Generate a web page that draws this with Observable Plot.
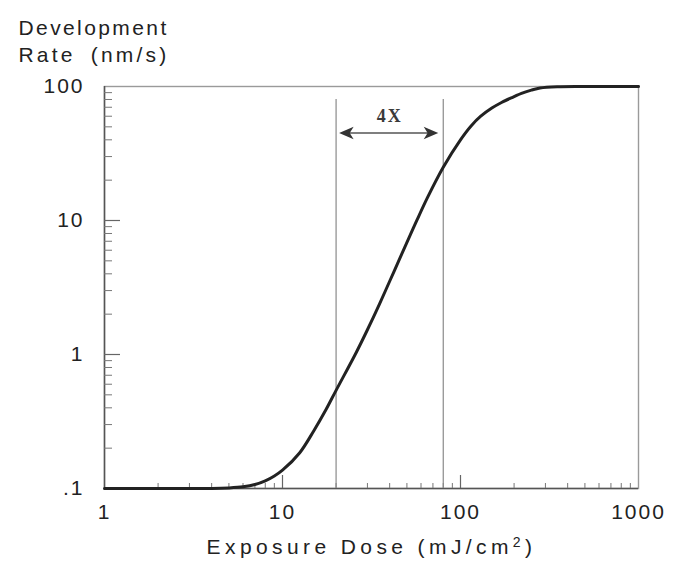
<!DOCTYPE html>
<html>
<head>
<meta charset="utf-8">
<script src="https://cdn.jsdelivr.net/npm/d3@7"></script>
<script src="https://cdn.jsdelivr.net/npm/@observablehq/plot@0.6"></script>
<style>
  body { margin: 0; background: #fff; }
  #chart svg { display: block; }
</style>
</head>
<body>
<div id="chart"></div>
<script>
// Resist development rate as a function of exposure dose (log-log)
const dose = [1, 2, 3, 4, 5, 6, 7, 8, 9, 10, 12.5, 15, 17.5, 20, 26, 30, 35, 40, 46, 52, 57, 65, 80, 100, 115, 130, 150, 170, 200, 220, 250, 280, 350, 500, 1000];
const rate = [0.1, 0.1, 0.1, 0.1, 0.101, 0.103, 0.107, 0.114, 0.124, 0.137, 0.185, 0.27, 0.385, 0.54, 1.04, 1.53, 2.37, 3.52, 5.35, 7.7, 10.1, 14.7, 25, 40, 51, 60, 69, 76, 84, 89, 94, 97.5, 99.6, 100, 100];

// Doses bracketing the steep part of the curve (a 4x dose ratio)
const bracketDoses = [20, 80];
const bracketLabel = "4X";

// Axis ticks
const xTicks = [1, 10, 100, 1000];
const xTickLabels = ["1", "10", "100", "1000"];
const yTicks = [0.1, 1, 10, 100];
const yTickLabels = [".1", "1", "10", "100"];
const xMajorInner = [10, 100];
const xMinor = [2, 3, 4, 5, 6, 7, 8, 9, 20, 30, 40, 50, 60, 70, 80, 90, 200, 300, 400, 500, 600, 700, 800, 900];
const yMajorInner = [1, 10];
const yMinor = [0.2, 0.3, 0.4, 0.5, 0.6, 0.7, 0.8, 0.9, 2, 3, 4, 5, 6, 7, 8, 9, 20, 30, 40, 50, 60, 70, 80, 90];

const yTitle = "Development\nRate (nm/s)";
const xTitleMain = "Exposure Dose (mJ/cm";
const xTitleSup = "2";
const xTitleEnd = ")";

const curve = dose.map((d, i) => ({dose: d, rate: rate[i]}));

const W = 680, H = 570;
const mL = 104, mR = 42, mT = 86, mB = 82;
const innerW = W - mL - mR, innerH = H - mT - mB;

// Filled, barbed arrowheads (tip at the origin)
const headRight = {
  draw(ctx, size) {
    const r = Math.sqrt(size / Math.PI);
    ctx.moveTo(0, 0);
    ctx.lineTo(-2.6 * r, -1.1 * r);
    ctx.lineTo(-1.9 * r, 0);
    ctx.lineTo(-2.6 * r, 1.1 * r);
    ctx.closePath();
  }
};
const headLeft = {
  draw(ctx, size) {
    const r = Math.sqrt(size / Math.PI);
    ctx.moveTo(0, 0);
    ctx.lineTo(2.6 * r, -1.1 * r);
    ctx.lineTo(1.9 * r, 0);
    ctx.lineTo(2.6 * r, 1.1 * r);
    ctx.closePath();
  }
};

const arrowY = 45;     // rate level of the double arrow
const labelY = 60;     // rate level of the "4X" label
const labelX = Math.sqrt(bracketDoses[0] * bracketDoses[1]);

const sans = "'Liberation Sans', Arial, Helvetica, sans-serif";

const chart = Plot.plot({
  width: W,
  height: H,
  marginLeft: mL,
  marginRight: mR,
  marginTop: mT,
  marginBottom: mB,
  x: {type: "log", domain: [1, 1000], axis: null},
  y: {type: "log", domain: [0.1, 100], axis: null},
  style: {fontFamily: sans, color: "#222", background: "#fff"},
  marks: [
    // plot frame
    Plot.frame({stroke: "#9a9a9a", strokeWidth: 1.4}),
    Plot.ruleX([1], {stroke: "#555", strokeWidth: 1.5}),
    Plot.ruleY([0.1], {stroke: "#555", strokeWidth: 1.5}),

    // inward tick marks
    Plot.tickX(xMajorInner, {x: d => d, insetTop: innerH - 13, stroke: "#666", strokeWidth: 1.2}),
    Plot.tickX(xMinor, {x: d => d, insetTop: innerH - 5, stroke: "#777", strokeWidth: 1}),
    Plot.tickY(yMajorInner, {y: d => d, insetRight: innerW - 16, stroke: "#666", strokeWidth: 1.2}),
    Plot.tickY(yMinor, {y: d => d, insetRight: innerW - 8, stroke: "#777", strokeWidth: 1}),

    // bracket lines at 20 and 80 mJ/cm²
    Plot.ruleX(bracketDoses, {y1: 0.1, y2: 80, stroke: "#8a8a8a", strokeWidth: 1.2}),

    // double arrow with label
    Plot.ruleY([arrowY], {x1: bracketDoses[0], x2: bracketDoses[1], insetLeft: 10, insetRight: 12, stroke: "#555", strokeWidth: 1.6}),
    Plot.dot([bracketDoses[0]], {x: d => d, y: () => arrowY, dx: 3, r: 5.6, symbol: headLeft, fill: "#333", stroke: null}),
    Plot.dot([bracketDoses[1]], {x: d => d, y: () => arrowY, dx: -5, r: 5.6, symbol: headRight, fill: "#333", stroke: null}),
    Plot.text([bracketLabel], {x: () => labelX, y: () => labelY, text: d => d, fontFamily: "'Liberation Serif', 'Times New Roman', serif", fontWeight: "bold", fontSize: 18, fill: "#3a3a3a"}),

    // development-rate curve
    Plot.line(curve, {x: "dose", y: "rate", stroke: "#222", strokeWidth: 3, curve: "catmull-rom"}),

    // tick labels
    Plot.text(xTicks, {x: d => d, frameAnchor: "bottom", dy: 30, text: (d, i) => xTickLabels[i], fontSize: 21, fill: "#222"}),
    Plot.text(yTicks, {y: d => d, frameAnchor: "left", dx: -20, textAnchor: "end", text: (d, i) => yTickLabels[i], fontSize: 21, fill: "#222"}),

    // axis titles
    Plot.text([yTitle], {frameAnchor: "top-left", dx: -86, dy: -71, textAnchor: "start", lineAnchor: "top", lineHeight: 1.29, text: d => d, fontSize: 21, fill: "#222"}),
    Plot.text([xTitleMain + xTitleSup + xTitleEnd], {frameAnchor: "bottom", dy: 65, text: d => d, fontSize: 21, fill: "#222"})
  ]
});

// Letter spacing of the labels
d3.select(chart).selectAll("text").each(function () {
  const t = this.textContent;
  let ls = 2;
  if (t.startsWith("Exposure")) ls = 4.4;
  else if (t.startsWith("Development")) ls = 2.4;
  else if (t === bracketLabel) ls = 2;
  d3.select(this).attr("letter-spacing", ls);
});
d3.select(chart).selectAll("tspan").each(function () {
  if (this.textContent.startsWith("Rate")) d3.select(this).attr("word-spacing", 6).attr("letter-spacing", 3.2);
});

// Raised exponent in the dose unit
d3.select(chart).selectAll("text").filter(function () {
  return this.textContent === xTitleMain + xTitleSup + xTitleEnd;
}).each(function () {
  const t = d3.select(this).text(null);
  t.append("tspan").text(xTitleMain);
  t.append("tspan").attr("font-size", 14).attr("dy", "-0.45em").text(xTitleSup);
  t.append("tspan").attr("dy", "0.3em").text(xTitleEnd);
});

document.getElementById("chart").append(chart);
</script>
</body>
</html>
